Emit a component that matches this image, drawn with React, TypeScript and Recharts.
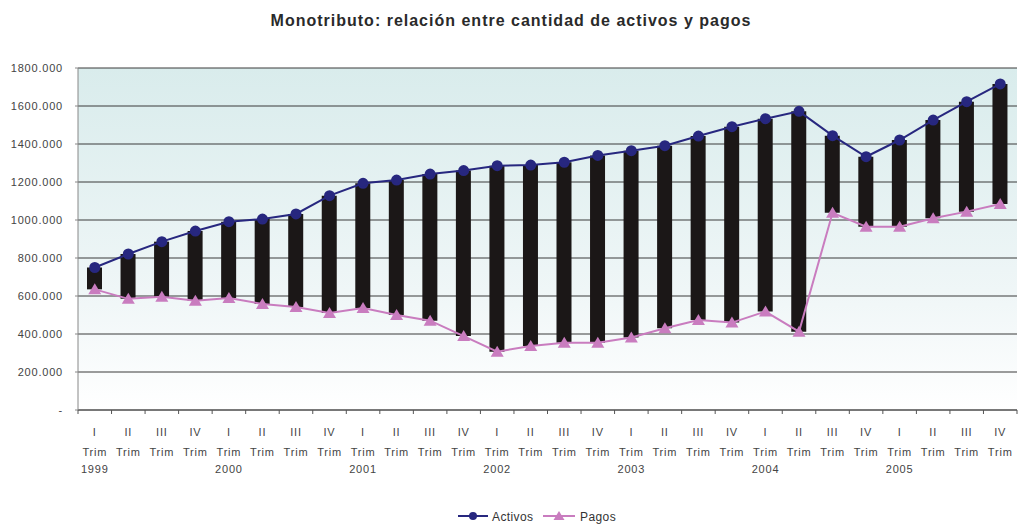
import React from 'react';
import { ComposedChart, Bar, Line, XAxis, YAxis, CartesianGrid } from 'recharts';

const quarters = ['I', 'II', 'III', 'IV', 'I', 'II', 'III', 'IV', 'I', 'II', 'III', 'IV', 'I', 'II', 'III', 'IV', 'I', 'II', 'III', 'IV', 'I', 'II', 'III', 'IV', 'I', 'II', 'III', 'IV'];
const years = ['1999', '', '', '', '2000', '', '', '', '2001', '', '', '', '2002', '', '', '', '2003', '', '', '', '2004', '', '', '', '2005', '', '', ''];

const activos = [750000, 821000, 886000, 942000, 991000, 1005000, 1032000, 1128000, 1193000, 1210000, 1242000, 1260000, 1286000, 1289000, 1304000, 1340000, 1365000, 1391000, 1442000, 1491000, 1533000, 1572000, 1444000, 1333000, 1421000, 1526000, 1623000, 1716000];
const pagos = [635000, 585000, 596000, 575000, 589000, 558000, 542000, 510000, 537000, 500000, 470000, 389000, 307000, 337000, 354000, 354000, 382000, 430000, 474000, 460000, 518000, 412000, 1038000, 965000, 965000, 1009000, 1044000, 1084000];

const yTicks = [0, 200000, 400000, 600000, 800000, 1000000, 1200000, 1400000, 1600000, 1800000];

const data = quarters.map((q, i) => ({
  key: i,
  quarter: q,
  year: years[i],
  activos: activos[i],
  pagos: pagos[i],
  range: [pagos[i], activos[i]],
}));

const W = 1022;
const H = 527;
const LEFT = 78;
const RIGHT = 1017;
const TOP = 68;
const BOTTOM = 410;
const BAND = (RIGHT - LEFT) / data.length;

const FONT = 'Arial, "Liberation Sans", sans-serif';
const NAVY = '#27277f';
const PINK = '#c97cbf';

const fmtY = (v: number) => (v === 0 ? '-' : `${v / 1000}.000`);

const tickText = { fontSize: 11, fill: '#444', fontFamily: FONT, letterSpacing: 0.8 };

const XTick = (props: any) => {
  const { x, payload, index } = props;
  const d = data[payload.index ?? index];
  const bx = x - BAND / 2;
  return (
    <g>
      <line x1={bx} y1={BOTTOM} x2={bx} y2={BOTTOM + 4} stroke="#555" />
      {index === data.length - 1 && (
        <line x1={RIGHT} y1={BOTTOM} x2={RIGHT} y2={BOTTOM + 4} stroke="#555" />
      )}
      <text x={x} y={436} textAnchor="middle" {...tickText}>
        {d.quarter}
      </text>
      <text x={x} y={456} textAnchor="middle" {...tickText}>
        Trim
      </text>
      {d.year && (
        <text x={x} y={473} textAnchor="middle" {...tickText}>
          {d.year}
        </text>
      )}
    </g>
  );
};

const Triangle = (props: any) => {
  const { cx, cy, key } = props;
  if (cx == null || cy == null) return <g key={key} />;
  return (
    <polygon
      key={key}
      points={`${cx},${cy - 6} ${cx - 6.5},${cy + 5} ${cx + 6.5},${cy + 5}`}
      fill={PINK}
    />
  );
};

export default function App() {
  return (
    <div style={{ position: 'absolute', left: 0, top: 0, width: W, height: H, background: '#fff' }}>
      <div
        style={{
          position: 'absolute',
          top: 12,
          width: W,
          textAlign: 'center',
          fontFamily: FONT,
          fontWeight: 'bold',
          fontSize: 16,
          letterSpacing: 1,
          color: '#2a2a2a',
        }}
      >
        Monotributo: relación entre cantidad de activos y pagos
      </div>
      <ComposedChart
        width={W}
        height={H}
        data={data}
        margin={{ top: TOP, right: W - RIGHT, bottom: 0, left: 0 }}
        barCategoryGap={0}
      >
        <defs>
          <linearGradient id="plotBg" x1="0" y1="0" x2="0" y2="1">
            <stop offset="0%" stopColor="#d9ecec" />
            <stop offset="65%" stopColor="#eff6f7" />
            <stop offset="100%" stopColor="#ffffff" />
          </linearGradient>
        </defs>
        <CartesianGrid vertical={false} stroke="#3a3a3a" fill="url(#plotBg)" fillOpacity={1} />
        <XAxis
          dataKey="key"
          tick={<XTick />}
          tickLine={false}
          axisLine={{ stroke: '#555' }}
          interval={0}
          height={H - BOTTOM}
        />
        <YAxis
          domain={[0, 1800000]}
          ticks={yTicks}
          tickFormatter={fmtY}
          width={LEFT}
          axisLine={{ stroke: '#888' }}
          tickLine={{ stroke: '#888' }}
          tickSize={3}
          tickMargin={12}
          tick={tickText}
          interval={0}
        />
        <Bar dataKey="range" fill="#1b1717" barSize={15} isAnimationActive={false} />
        <Line
          dataKey="pagos"
          stroke={PINK}
          strokeWidth={2}
          dot={<Triangle />}
          isAnimationActive={false}
        />
        <Line
          dataKey="activos"
          stroke={NAVY}
          strokeWidth={2}
          dot={{ r: 4.5, fill: NAVY, stroke: NAVY }}
          isAnimationActive={false}
        />
      </ComposedChart>
      <svg style={{ position: 'absolute', left: 0, top: 505 }} width={W} height={22}>
        <line x1={458} y1={11} x2={488} y2={11} stroke={NAVY} strokeWidth={2} />
        <circle cx={473} cy={11} r={4} fill={NAVY} />
        <text x={492} y={15.5} fontSize={12} fill="#333" fontFamily={FONT} letterSpacing={0.4}>
          Activos
        </text>
        <line x1={543} y1={11} x2={575} y2={11} stroke={PINK} strokeWidth={2} />
        <polygon points="559,6 553.5,15 564.5,15" fill={PINK} />
        <text x={580} y={15.5} fontSize={12} fill="#333" fontFamily={FONT} letterSpacing={0.4}>
          Pagos
        </text>
      </svg>
    </div>
  );
}
